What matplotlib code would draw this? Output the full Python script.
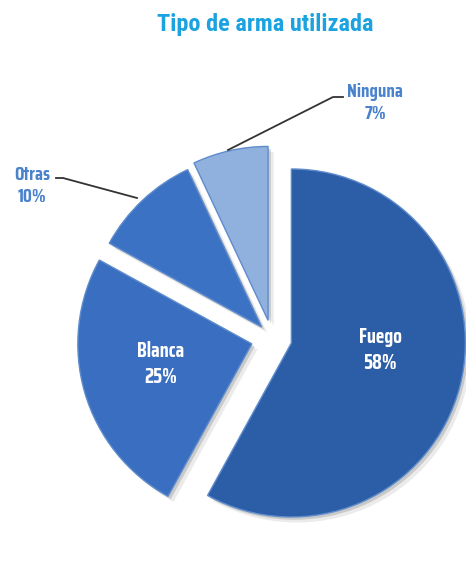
import matplotlib
matplotlib.use("Agg")
import matplotlib.pyplot as plt
import matplotlib.patheffects as pe
from matplotlib import font_manager

categories = ["Fuego", "Blanca", "Otras", "Ninguna"]
values = [58, 25, 10, 7]
pct_labels = ["58%", "25%", "10%", "7%"]
title = "Tipo de arma utilizada"

colors = ["#2c5ea8", "#3a6ec0", "#3b72c3", "#90b0de"]
explode = [20, 21, 15, 18]  # offset in pixels (pie radius is in pixels too)

names = {f.name for f in font_manager.fontManager.ttflist}
def pick(*cands):
    for c in cands:
        if c in names:
            return c
    return "DejaVu Sans"
title_fam = pick("Roboto Condensed", "Liberation Sans Narrow")
lab_fam = pick("Saira Condensed", "Barlow Condensed", "Roboto Condensed")

W, H = 466, 567
fig = plt.figure(figsize=(W / 100, H / 100), dpi=100)
ax = fig.add_axes([0, 0, 1, 1])

def Y(y):
    return H - y

cx, cy, r = 272, 338, 174
wedges, _ = ax.pie(values, explode=explode, colors=colors, startangle=90,
                   counterclock=False, center=(cx, Y(cy)), radius=r,
                   wedgeprops=dict(edgecolor="#5f8ccc", linewidth=1.0))
for w in wedges:
    w.set_path_effects([
        pe.SimplePatchShadow(offset=(4, -4), shadow_rgbFace="#c8c8c8", alpha=0.35),
        pe.SimplePatchShadow(offset=(2, -2), shadow_rgbFace="#a0a0a0", alpha=0.45),
        pe.Normal()])

ax.set_xlim(0, W)
ax.set_ylim(0, H)
ax.set_aspect("equal")
ax.axis("off")

ax.text(265, Y(25), title, ha="center", va="center", fontsize=17.5, fontweight="bold",
        color="#1aa3e0", family=title_fam)

# inner labels
ax.text(380, Y(350), f"{categories[0]}\n{pct_labels[0]}", ha="center", va="center",
        fontsize=14.5, fontweight="bold", color="white", family=lab_fam, linespacing=1.4)
ax.text(161, Y(364), f"{categories[1]}\n{pct_labels[1]}", ha="center", va="center",
        fontsize=14.5, fontweight="bold", color="white", family=lab_fam, linespacing=1.4)

# outer labels
lab_col = "#4a82cc"
ax.text(375, Y(103), f"{categories[3]}\n{pct_labels[3]}", ha="center", va="center",
        fontsize=13.5, fontweight="bold", color=lab_col, family=lab_fam, linespacing=1.35)
ax.text(32, Y(186), f"{categories[2]}\n{pct_labels[2]}", ha="center", va="center",
        fontsize=13.5, fontweight="bold", color=lab_col, family=lab_fam, linespacing=1.35)

ax.plot([228, 333, 343], [Y(150), Y(97), Y(97)], color="#333333", lw=1.3)
ax.plot([56, 63, 137], [Y(178), Y(178), Y(198)], color="#333333", lw=1.3)

fig.savefig("out.png", dpi=100, facecolor="white")
